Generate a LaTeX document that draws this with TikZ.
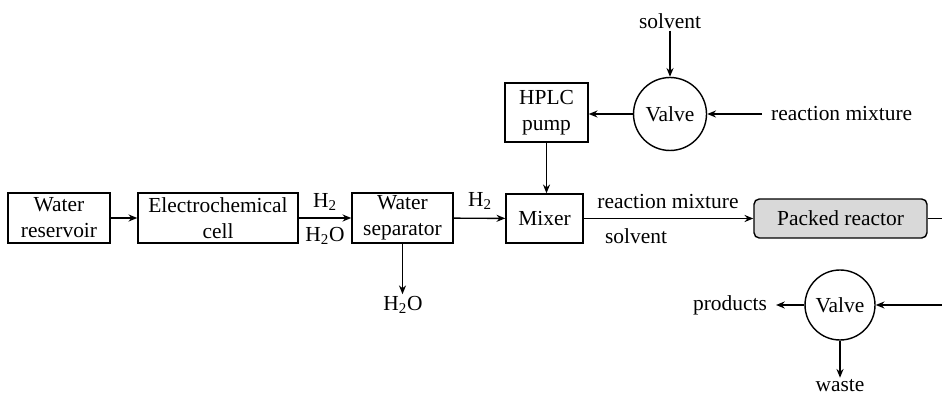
\documentclass[tikz,border=0pt]{standalone}
\usepackage{fontspec}
\setmainfont{Liberation Serif}
\usetikzlibrary{arrows.meta,positioning}
\tikzset{
  unit/.style={draw, line width=0.8pt, align=center, inner sep=1pt},
  valve/.style={draw, circle, line width=0.8pt, minimum size=1.46cm, inner sep=0pt},
  flow/.style={line width=0.8pt, -{Stealth[length=5pt,width=4pt]}},
  lbl/.style={inner sep=1pt}
}

\begin{document}
\begin{tikzpicture}[x=0.02cm, y=-0.02cm, font=\fontsize{12.2}{14.8}\selectfont]
    \useasboundingbox (0,0) rectangle (942,398);

    % main line
    \node[unit, minimum width=2.04cm, minimum height=1cm] (reservoir) at (59,218) {Water\\reservoir};
    \node[unit, minimum width=3.2cm, minimum height=1cm] (cell) at (218,218) {Electrochemical\\cell};
    \node[unit, minimum width=2.02cm, minimum height=1cm] (separator) at (402.5,218) {Water\\separator};
    \node[unit, minimum width=1.54cm, minimum height=0.98cm] (mixer) at (544.5,218.5) {Mixer};
    \node[unit, minimum width=3.46cm, minimum height=0.78cm, rounded corners=3pt,
          fill=gray!30] (reactor) at (840.5,218.5) {Packed reactor};

    % solvent feed
    \node[unit, minimum width=1.66cm, minimum height=1.18cm] (pump) at (546.5,112.5) {HPLC\\pump};
    \node[valve] (valveA) at (670,114) {Valve};
    \node[lbl] (solvent) at (670,21) {solvent};
    \node[lbl, anchor=west, inner sep=5pt] (mixin) at (762,114) {reaction mixture};

    % product side
    \node[valve, minimum size=1.4cm] (valveB) at (840,305) {Valve};
    \node[lbl, anchor=east, inner sep=5pt] (products) at (776,305) {products};
    \node[lbl] (waste) at (840,386) {waste};
    \node[lbl] (water) at (403,305) {H\textsubscript{2}O};

    % flow labels
    \node[lbl] (gasA) at (325,202) {H\textsubscript{2}};
    \node[lbl] (wetA) at (325,236) {H\textsubscript{2}O};
    \node[lbl] (gasB) at (480,201) {H\textsubscript{2}};
    \node[lbl] (mixtop) at (668,202) {reaction mixture};
    \node[lbl] (mixbot) at (636,236) {solvent};

    \draw[flow] (reservoir) -- (cell);
    \draw[flow] (cell) -- (separator);
    \draw[flow] (separator) -- (mixer);
    \draw[flow] (mixer) -- (reactor);
    \draw[flow] (separator.south) -- (separator.south |- water.north);
    \draw[flow] (solvent.south) -- (valveA.north);
    \draw[flow] (mixin.west) -- (valveA.east);
    \draw[flow] (valveA.west) -- (valveA.west -| pump.east);
    \draw[flow] (pump.south) -- (pump.south |- mixer.north);
    \draw[flow] (reactor.east) -- ++(40,0) |- (valveB.east);
    \draw[flow] (valveB.west) -- (products.east);
    \draw[flow] (valveB.south) -- (waste.north);
\end{tikzpicture}
\end{document}
